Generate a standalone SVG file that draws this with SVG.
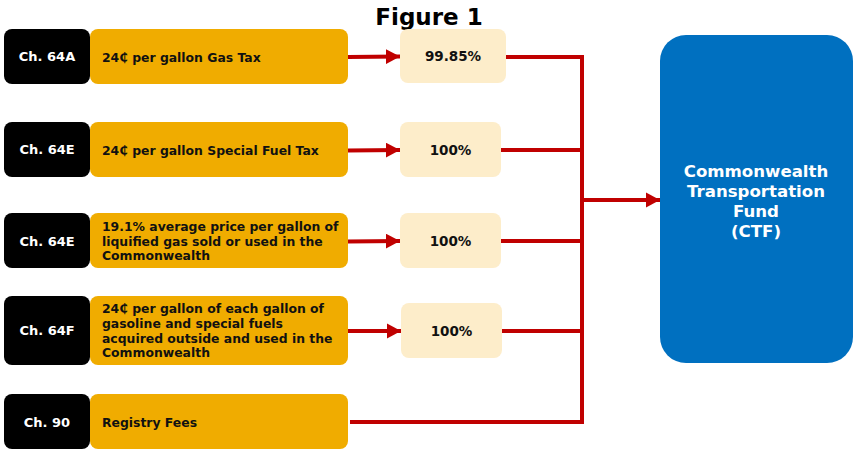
<svg xmlns="http://www.w3.org/2000/svg" width="854" height="450" viewBox="0 0 854 450">
<defs>
<marker id="ah" markerWidth="3.6" markerHeight="3.8" refX="3.6" refY="1.9" orient="auto" markerUnits="strokeWidth"><path d="M0,0 L3.6,1.9 L0,3.8 Z" fill="#C00000"/></marker>
<style>
text{font-family:"DejaVu Sans",Verdana,sans-serif;font-weight:bold;}
.ch rect{fill:#000;}
.ch text{fill:#fff;font-size:13px;text-anchor:middle;}
.src rect{fill:#F0AC00;}
.src text{fill:#111;font-size:12.4px;}
.pct rect{fill:#FDEDCA;}
.pct text{fill:#111;font-size:13.5px;text-anchor:middle;}
.c{stroke:#C00000;stroke-width:4;fill:none;}
</style>
</defs>
<rect width="854" height="450" fill="#fff"/>
<text x="429" y="25" font-size="23" text-anchor="middle" fill="#000">Figure 1</text>

<g id="connectors">
<line class="c" x1="348" y1="57" x2="400" y2="56.5" marker-end="url(#ah)"/>
<line class="c" x1="348" y1="150.5" x2="400" y2="150" marker-end="url(#ah)"/>
<line class="c" x1="348" y1="241.5" x2="400" y2="241" marker-end="url(#ah)"/>
<line class="c" x1="348" y1="331" x2="401" y2="331" marker-end="url(#ah)"/>
<polyline class="c" points="506,57 582,57 582,422 350,422"/>
<line class="c" x1="501" y1="150" x2="582" y2="150"/>
<line class="c" x1="501" y1="241" x2="582" y2="241"/>
<line class="c" x1="502" y1="331" x2="582" y2="331"/>
<line class="c" x1="582" y1="200" x2="660" y2="200" marker-end="url(#ah)"/>
</g>

<g id="ch1" class="ch"><rect x="4" y="29" width="86" height="55" rx="8"/><text x="47" y="61">Ch. 64A</text></g>
<g id="ch2" class="ch"><rect x="4" y="122" width="86" height="55" rx="8"/><text x="47" y="154">Ch. 64E</text></g>
<g id="ch3" class="ch"><rect x="4" y="213" width="86" height="55" rx="8"/><text x="47" y="246">Ch. 64E</text></g>
<g id="ch4" class="ch"><rect x="4" y="296" width="86" height="69" rx="8"/><text x="47" y="335">Ch. 64F</text></g>
<g id="ch5" class="ch"><rect x="4" y="394" width="86" height="55" rx="8"/><text x="47" y="427">Ch. 90</text></g>

<g id="src1" class="src"><rect x="90" y="29" width="258" height="55" rx="8"/><text x="102" y="62">24₵ per gallon Gas Tax</text></g>
<g id="src2" class="src"><rect x="90" y="122" width="258" height="55" rx="8"/><text x="102" y="155">24₵ per gallon Special Fuel Tax</text></g>
<g id="src3" class="src"><rect x="90" y="213" width="258" height="55" rx="8"/><text x="102" y="231">19.1% average price per gallon of</text><text x="102" y="246">liquified gas sold or used in the</text><text x="102" y="260">Commonwealth</text></g>
<g id="src4" class="src"><rect x="90" y="296" width="258" height="69" rx="8"/><text x="102" y="313">24₵ per gallon of each gallon of</text><text x="102" y="328">gasoline and special fuels</text><text x="102" y="343">acquired outside and used in the</text><text x="102" y="357">Commonwealth</text></g>
<g id="src5" class="src"><rect x="90" y="394" width="258" height="55" rx="8"/><text x="102" y="427">Registry Fees</text></g>

<g id="pct1" class="pct"><rect x="400" y="29" width="106" height="54" rx="8"/><text x="453" y="61">99.85%</text></g>
<g id="pct2" class="pct"><rect x="400" y="122" width="101" height="55" rx="8"/><text x="450.5" y="155">100%</text></g>
<g id="pct3" class="pct"><rect x="400" y="213" width="101" height="55" rx="8"/><text x="450.5" y="246">100%</text></g>
<g id="pct4" class="pct"><rect x="401" y="303" width="101" height="55" rx="8"/><text x="451.5" y="336">100%</text></g>

<g id="ctf"><rect x="660" y="35" width="193" height="328" rx="26" fill="#0070C0"/>
<text x="756" y="177" font-size="16.6" fill="#fff" text-anchor="middle">Commonwealth</text>
<text x="756" y="197" font-size="16.6" fill="#fff" text-anchor="middle">Transportation</text>
<text x="756" y="217" font-size="16.6" fill="#fff" text-anchor="middle">Fund</text>
<text x="756" y="237" font-size="16.6" fill="#fff" text-anchor="middle">(CTF)</text></g>
</svg>
